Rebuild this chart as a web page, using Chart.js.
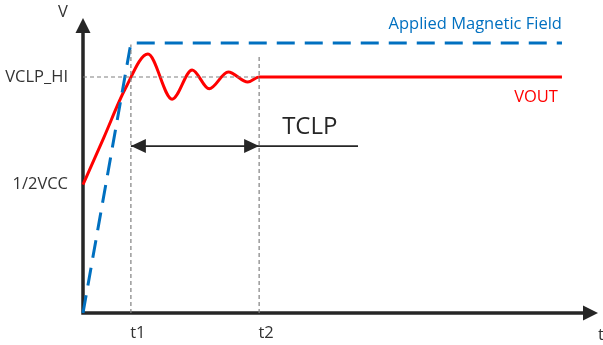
<!DOCTYPE html>
<html>
<head>
<meta charset="utf-8">
<script src="https://cdn.jsdelivr.net/npm/chart.js@4.4.0/dist/chart.umd.min.js"></script>
<style>
  html, body { margin: 0; padding: 0; background: #fff; }
  #wrap { width: 603px; height: 345px; }
</style>
</head>
<body>
<div id="wrap"><canvas id="clampChart" width="603" height="345"></canvas></div>
<script>
// ─── data (time 0..100, volts 0..10, arbitrary units) ───
const xRange = [0, 100];
const yRange = [0, 10];

const timeTicks = [9.3, 34.2];
const timeLabels = ['t1', 't2'];
const voltTicks = [4.35, 8.0];
const voltLabels = ['1/2VCC', 'VCLP_HI'];

// applied magnetic field: ramp then flat
const fieldX = [0, 9.3, 93.0];
const fieldY = [0, 9.15, 9.15];

// VOUT: ramp from VCC/2, ringing, settles at VCLP_HI
const voutX = [0, 4.0, 8.2, 12.6, 17.3, 21.2, 24.5, 28.2, 32.0, 34.2, 93.0];
const voutY = [4.35, 5.93, 7.6, 8.78, 7.25, 8.24, 7.6, 8.17, 7.83, 8.0, 8.0];

// dashed guides: top of the t1 / t2 verticals
const guideTop = [9.1, 8.75];

// TCLP span: start, end, tail end, level
const tclpX = [9.3, 34.2, 53.4];
const tclpY = 5.66;

const BLUE = '#0070c0', RED = '#ff0000', INK = '#262626', GUIDE = '#808080';
const FONT = "'Open Sans', 'Noto Sans', sans-serif";
const LABEL_SIZE = 16.5;

const pts = (xs, ys) => xs.map((x, i) => ({ x, y: ys[i] }));

function tri(ctx, x, y, dir, len, half) {
  ctx.beginPath();
  if (dir === 'up') { ctx.moveTo(x, y); ctx.lineTo(x - half, y + len); ctx.lineTo(x + half, y + len); }
  if (dir === 'right') { ctx.moveTo(x, y); ctx.lineTo(x - len, y - half); ctx.lineTo(x - len, y + half); }
  if (dir === 'left') { ctx.moveTo(x, y); ctx.lineTo(x + len, y - half); ctx.lineTo(x + len, y + half); }
  ctx.closePath();
  ctx.fill();
}

const decor = {
  id: 'decor',
  beforeDatasetsDraw(chart) {
    const { ctx, chartArea: a } = chart;
    ctx.save();
    ctx.strokeStyle = INK; ctx.fillStyle = INK; ctx.lineWidth = 3.5;
    ctx.beginPath();
    ctx.moveTo(a.left, a.top + 12);
    ctx.lineTo(a.left, a.bottom);
    ctx.lineTo(a.right - 12, a.bottom);
    ctx.stroke();
    tri(ctx, a.left, a.top, 'up', 15, 7.5);
    tri(ctx, a.right, a.bottom, 'right', 15, 7.5);
    ctx.restore();
  },
  afterDatasetsDraw(chart) {
    const { ctx, chartArea: a, scales: { x, y } } = chart;
    ctx.save();
    ctx.fillStyle = INK;
    const ty = y.getPixelForValue(tclpY);
    tri(ctx, x.getPixelForValue(tclpX[0]), ty, 'left', 15, 7);
    tri(ctx, x.getPixelForValue(tclpX[1]), ty, 'right', 15, 7);

    ctx.textBaseline = 'middle';
    ctx.font = LABEL_SIZE + 'px ' + FONT;
    ctx.fillStyle = '#333';
    ctx.textAlign = 'center';
    ctx.fillText('V', a.left - 20, a.top - 6);
    ctx.fillText('t', a.right + 3, a.bottom + 22);

    ctx.fillStyle = BLUE;
    ctx.textAlign = 'right';
    ctx.fillText('Applied Magnetic Field', x.getPixelForValue(fieldX[2]), y.getPixelForValue(fieldY[2]) - 19);
    ctx.fillStyle = RED;
    ctx.fillText('VOUT', x.getPixelForValue(voutX[voutX.length - 1]) - 4, y.getPixelForValue(voutY[voutY.length - 1]) + 20);

    ctx.fillStyle = INK;
    ctx.textAlign = 'left';
    ctx.font = '24px ' + FONT;
    ctx.fillText('TCLP', x.getPixelForValue(tclpX[1]) + 23, ty - 19);
    ctx.restore();
  }
};

const guide = { borderColor: GUIDE, borderWidth: 1.2, borderDash: [4, 3], pointRadius: 0, showLine: true, clip: false };

new Chart(document.getElementById('clampChart'), {
  type: 'scatter',
  data: {
    datasets: [
      { ...guide, data: pts([0, timeTicks[1]], [voltTicks[1], voltTicks[1]]) },
      { ...guide, data: pts([timeTicks[0], timeTicks[0]], [0, guideTop[0]]) },
      { ...guide, data: pts([timeTicks[1], timeTicks[1]], [0, guideTop[1]]) },
      { data: pts([tclpX[0], tclpX[2]], [tclpY, tclpY]), borderColor: INK, borderWidth: 1.8, pointRadius: 0, showLine: true, clip: false },
      { data: pts(fieldX, fieldY), borderColor: BLUE, borderWidth: 3, borderDash: [18, 10], pointRadius: 0, showLine: true, clip: false },
      { data: pts(voutX, voutY), borderColor: RED, borderWidth: 3, pointRadius: 0, showLine: true, cubicInterpolationMode: 'monotone', clip: false }
    ]
  },
  options: {
    responsive: false,
    animation: false,
    devicePixelRatio: 1,
    layout: { padding: { top: 18, right: 5, left: 0, bottom: 0 } },
    plugins: { legend: { display: false }, tooltip: { enabled: false } },
    scales: {
      x: {
        type: 'linear', min: xRange[0], max: xRange[1],
        grid: { display: false, drawTicks: false },
        border: { display: false },
        afterFit: s => { s.height = 32; s.paddingLeft = 0; s.paddingRight = 0; },
        afterBuildTicks: s => { s.ticks = timeTicks.map(v => ({ value: v })); },
        ticks: { callback: (v, i) => timeLabels[i], color: '#333', font: { family: FONT, size: LABEL_SIZE }, padding: 10, labelOffset: 7, autoSkip: false, maxRotation: 0 }
      },
      y: {
        type: 'linear', min: yRange[0], max: yRange[1],
        grid: { display: false, drawTicks: false },
        border: { display: false },
        afterFit: s => { s.width = 83; s.paddingTop = 0; s.paddingBottom = 0; },
        afterBuildTicks: s => { s.ticks = voltTicks.map(v => ({ value: v })); },
        ticks: { callback: (v, i) => voltLabels[i], color: '#333', font: { family: FONT, size: LABEL_SIZE }, padding: 15, autoSkip: false }
      }
    }
  },
  plugins: [decor]
});
</script>
</body>
</html>
